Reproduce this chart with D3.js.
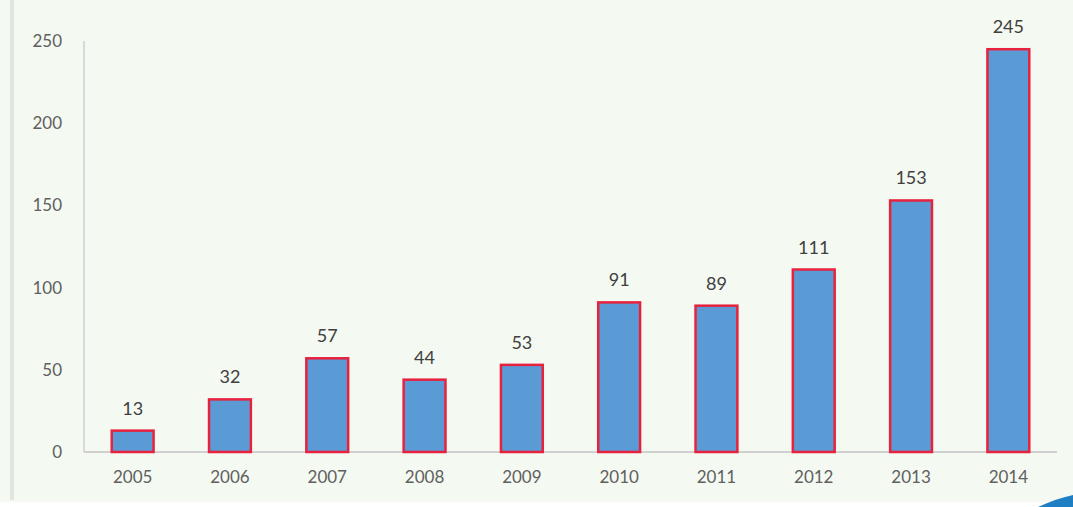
<!DOCTYPE html>
<html>
<head>
<meta charset="utf-8">
<script src="https://cdn.jsdelivr.net/npm/d3@7"></script>
<style>
  body { margin: 0; background: #ffffff; }
  text { font-family: Lato, "Open Sans", sans-serif; }
</style>
</head>
<body>
<svg id="chart"></svg>
<script>
const years = ["2005", "2006", "2007", "2008", "2009", "2010", "2011", "2012", "2013", "2014"];
const counts = [13, 32, 57, 44, 53, 91, 89, 111, 153, 245];
const yTicks = [0, 50, 100, 150, 200, 250];

const svgWidth = 1073,
    svgHeight = 507,
    margin = {top: 41, right: 16, bottom: 55, left: 84},
    width = svgWidth - margin.left - margin.right,
    height = svgHeight - margin.top - margin.bottom;

const chart = d3.select('#chart')
    .attr("width", svgWidth)
    .attr("height", svgHeight);

// background panel
chart.append("rect")
    .attr("x", 0).attr("y", 0)
    .attr("width", svgWidth).attr("height", 502)
    .attr("fill", "#f4f9f2");

chart.append("rect")
    .attr("x", 10).attr("y", 0)
    .attr("width", 4).attr("height", 500)
    .attr("fill", "#e2e4e2");

// blue swoosh bottom right
chart.append("path")
    .attr("d", "M1038,507 Q1058,498 1073,495 L1073,507 Z")
    .attr("fill", "#1f7fc4");

const innerChart = chart.append("g")
    .attr("transform", "translate(" + margin.left + "," + margin.top + ")");

var xScale = d3.scaleBand().domain(years).range([0, 973]).paddingInner(0.57).paddingOuter(0.285);
var yScale = d3.scaleLinear().domain([0, 250]).range([height, 0]);

// axes lines
innerChart.append("line")
    .attr("x1", 0).attr("x2", 0)
    .attr("y1", 0).attr("y2", height)
    .attr("stroke", "#d9d9d9").attr("stroke-width", 2);

innerChart.append("line")
    .attr("x1", 0).attr("x2", 973)
    .attr("y1", height).attr("y2", height)
    .attr("stroke", "#d0d0d0").attr("stroke-width", 2);

var yAxis = d3.axisLeft(yScale).tickValues(yTicks).tickSize(0).tickPadding(22);
innerChart.append("g")
    .call(yAxis)
    .call(g => g.select(".domain").remove())
    .selectAll("text")
    .attr("fill", "#606060")
    .style("font-size", "17px");

var xAxis = d3.axisBottom(xScale).tickSize(0).tickPadding(19);
innerChart.append("g")
    .attr("transform", "translate(0," + height + ")")
    .call(xAxis)
    .call(g => g.select(".domain").remove())
    .selectAll("text")
    .attr("fill", "#606060")
    .style("font-size", "17px");

const data = years.map((y, i) => ({year: y, value: counts[i]}));

innerChart.selectAll(".bar")
    .data(data)
    .enter()
    .append("rect")
    .attr("class", "bar")
    .attr("x", d => xScale(d.year))
    .attr("y", d => yScale(d.value))
    .attr("width", xScale.bandwidth())
    .attr("height", d => height - yScale(d.value))
    .attr("fill", "#5b9bd5")
    .attr("stroke", "#e8223e")
    .attr("stroke-width", 2.5);

innerChart.selectAll(".label")
    .data(data)
    .enter()
    .append("text")
    .attr("class", "label")
    .attr("x", d => xScale(d.year) + xScale.bandwidth() / 2)
    .attr("y", d => yScale(d.value) - 16)
    .attr("text-anchor", "middle")
    .attr("fill", "#404040")
    .style("font-size", "18px")
    .text(d => d.value);
</script>
</body>
</html>
